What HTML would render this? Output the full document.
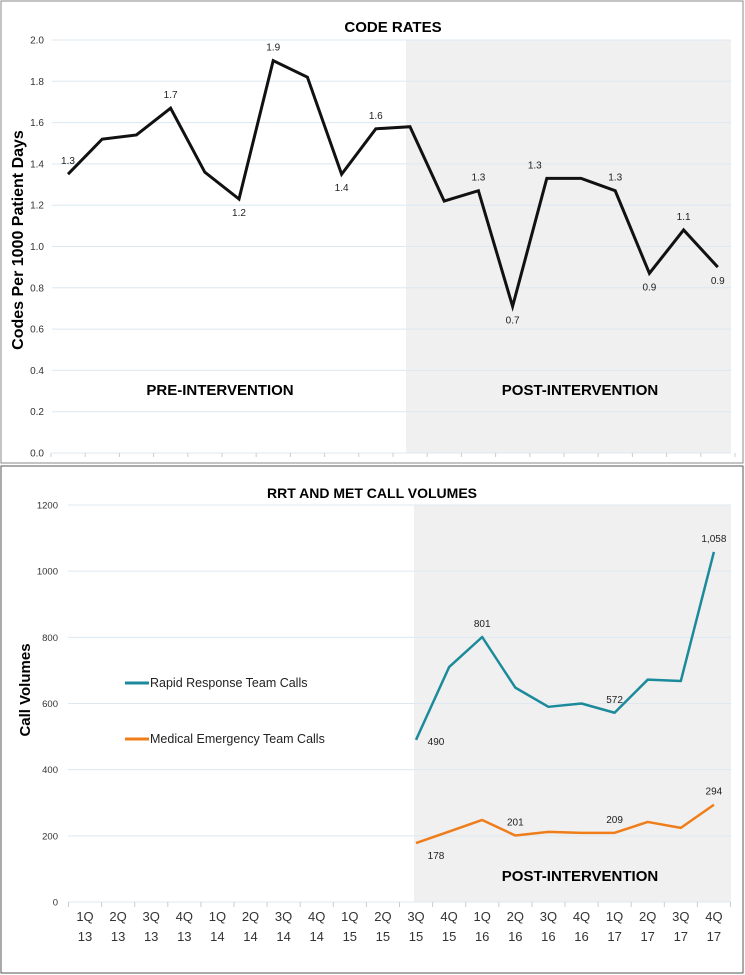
<!DOCTYPE html>
<html><head><meta charset="utf-8"><style>
body{margin:0;background:#fff;font-family:"Liberation Sans",sans-serif}
svg{display:block}
text{font-family:"Liberation Sans",sans-serif}
</style></head><body>
<svg id="s" width="745" height="975">
<rect x="1" y="1" width="742" height="462" fill="#fff" stroke="#888"/>
<rect x="1" y="466" width="742" height="507" fill="#fff" stroke="#555"/>
<g id="g1"></g><g id="g2"></g>
</svg>
<script>
const cats=["1Q 13","2Q 13","3Q 13","4Q 13","1Q 14","2Q 14","3Q 14","4Q 14","1Q 15","2Q 15","3Q 15","4Q 15","1Q 16","2Q 16","3Q 16","4Q 16","1Q 17","2Q 17","3Q 17","4Q 17"];
const codeRates=[1.35,1.52,1.54,1.67,1.36,1.23,1.90,1.82,1.35,1.57,1.58,1.22,1.27,0.71,1.33,1.33,1.27,0.87,1.08,0.90];
const codeLabels=["1.3","","","1.7","","1.2","1.9","","1.4","1.6","","","1.3","0.7","1.3","","1.3","0.9","1.1","0.9"];
const codeLabelPos=["a","","","a","","b","a","","b","a","","","a","b","al","","a","b","a","b"];
const codeTicks=[0,0.2,0.4,0.6,0.8,1.0,1.2,1.4,1.6,1.8,2.0];
const rrt=[null,null,null,null,null,null,null,null,null,null,490,710,801,648,590,600,572,672,668,1058];
const met=[null,null,null,null,null,null,null,null,null,null,178,213,248,201,212,209,209,242,224,294];
const rrtLabels={10:"490",12:"801",16:"572",19:"1,058"};
const metLabels={10:"178",13:"201",16:"209",19:"294"};
const volTicks=[0,200,400,600,800,1000,1200];
const NS="http://www.w3.org/2000/svg";
function el(p,t,a,txt){const e=document.createElementNS(NS,t);for(const k in a)e.setAttribute(k,a[k]);if(txt!==undefined)e.textContent=txt;p.appendChild(e);return e;}
// chart 1
const g1=document.getElementById('g1');
const x1=i=>68+i*34.2, y1=v=>453-v/2*413;
let r=el(g1,'rect',{x:406,y:40,width:325,height:413,fill:'#f0f0f0'});


codeTicks.forEach(t=>{let l=el(g1,'line',{x1:52,x2:731,y1:y1(t),y2:y1(t),stroke:'#dce8f2','stroke-width':1});

let tx=el(g1,'text',{x:44,y:y1(t)+3.5,'text-anchor':'end','font-size':'10',fill:'#333'},t.toFixed(1));
});
for(let i=0;i<=20;i++){el(g1,'line',{x1:51+i*34.2,x2:51+i*34.2,y1:453,y2:457,stroke:'#ccc'});}
let p1=el(g1,'path',{d:codeRates.map((v,i)=>(i?'L':'M')+x1(i)+','+y1(v)).join(''),fill:'none',stroke:'#111','stroke-width':3,'stroke-linejoin':'miter'});

codeRates.forEach((v,i)=>{if(!codeLabels[i])return;const pos=codeLabelPos[i];
let dx=pos==='al'?-12:0, dy=pos==='b'?17:-10;
let t=el(g1,'text',{x:x1(i)+dx,y:y1(v)+dy,'text-anchor':'middle','font-size':'10',fill:'#222'},codeLabels[i]);
});
let t;
t=el(g1,'text',{x:393,y:32,'text-anchor':'middle','font-size':'15','font-weight':'bold'},'CODE RATES');
t=el(g1,'text',{x:0,y:0,'text-anchor':'middle','font-size':'16','font-weight':'bold',transform:'translate(23,240) rotate(-90)'},'Codes Per 1000 Patient Days');
t=el(g1,'text',{x:220,y:395,'text-anchor':'middle','font-size':'15','font-weight':'bold'},'PRE-INTERVENTION');
t=el(g1,'text',{x:580,y:395,'text-anchor':'middle','font-size':'15','font-weight':'bold'},'POST-INTERVENTION');
// chart 2
const g2=document.getElementById('g2');
const x2=i=>85+i*33.1, y2=v=>902-v/1200*397;
r=el(g2,'rect',{x:414,y:505,width:317,height:397,fill:'#f0f0f0'});

volTicks.forEach(v=>{let l=el(g2,'line',{x1:68,x2:731,y1:y2(v),y2:y2(v),stroke:'#dce8f2'});

let tx=el(g2,'text',{x:58,y:y2(v)+3.5,'text-anchor':'end','font-size':'9.5',fill:'#333'},String(v));
});
for(let i=0;i<=20;i++){el(g2,'line',{x1:68.5+i*33.1,x2:68.5+i*33.1,y1:902,y2:907,stroke:'#ccc'});}
cats.forEach((c,i)=>{const [a,b]=c.split(' ');
let tx=el(g2,'text',{x:x2(i),y:921,'text-anchor':'middle','font-size':'13',fill:'#333'},a);

tx=el(g2,'text',{x:x2(i),y:941,'text-anchor':'middle','font-size':'13',fill:'#333'},b);
});
function series(arr,col,name){let d='',f=true;arr.forEach((v,i)=>{if(v==null)return;d+=(f?'M':'L')+x2(i)+','+y2(v);f=false;});
let p=el(g2,'path',{d:d,fill:'none',stroke:col,'stroke-width':2.5,'stroke-linejoin':'round'});
}
series(rrt,'#1b8a9b','rrt-line');series(met,'#ef7d1a','met-line');
for(const k in rrtLabels){const i=+k,v=rrt[i];let dx=0,dy=-10;if(i===10){dx=20;dy=5}
let tx=el(g2,'text',{x:x2(i)+dx,y:y2(v)+dy,'text-anchor':'middle','font-size':'10',fill:'#222'},rrtLabels[k]);
}
for(const k in metLabels){const i=+k,v=met[i];let dx=0,dy=-10;if(i===10){dx=20;dy=16}
let tx=el(g2,'text',{x:x2(i)+dx,y:y2(v)+dy,'text-anchor':'middle','font-size':'10',fill:'#222'},metLabels[k]);
}
t=el(g2,'text',{x:372,y:498,'text-anchor':'middle','font-size':'14','font-weight':'bold'},'RRT AND MET CALL VOLUMES');
t=el(g2,'text',{x:0,y:0,'text-anchor':'middle','font-size':'15','font-weight':'bold',transform:'translate(30,690) rotate(-90)'},'Call Volumes');
t=el(g2,'text',{x:580,y:881,'text-anchor':'middle','font-size':'15','font-weight':'bold'},'POST-INTERVENTION');
let lg=el(g2,'g',{});
el(lg,'line',{x1:125,x2:149,y1:683,y2:683,stroke:'#1b8a9b','stroke-width':3});
t=el(lg,'text',{x:150,y:687,'font-size':'12.5',fill:'#222'},'Rapid Response Team Calls');
el(lg,'line',{x1:125,x2:149,y1:739,y2:739,stroke:'#ef7d1a','stroke-width':3});
t=el(lg,'text',{x:150,y:743,'font-size':'12.5',fill:'#222'},'Medical Emergency Team Calls');
</script>
</body></html>
